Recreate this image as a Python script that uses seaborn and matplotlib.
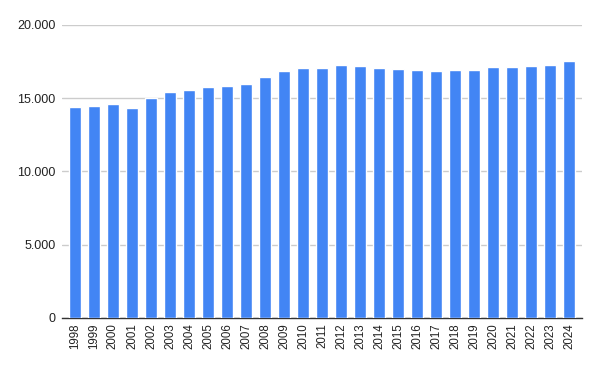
import matplotlib
matplotlib.use("Agg")
import matplotlib.pyplot as plt
import matplotlib.ticker as mticker
import seaborn as sns
import pandas as pd

years = [str(y) for y in range(1998, 2025)]
values = [14400, 14470, 14610, 14340, 15020, 15430, 15570, 15750, 15840, 15980,
          16450, 16860, 17050, 17050, 17270, 17200, 17070, 17000, 16930, 16860,
          16930, 16930, 17130, 17130, 17200, 17270, 17540]
yticks = [0, 5000, 10000, 15000, 20000]

df = pd.DataFrame({"year": years, "value": values})

sns.set_theme(style="white")
plt.rcParams['font.family'] = ['Liberation Sans', 'DejaVu Sans']

fig = plt.figure(figsize=(6, 3.71), dpi=100)
ax = fig.add_axes([62/600, 1 - 318/371, 520/600, 293/371])

sns.barplot(data=df, x="year", y="value", color="#4285F4", saturation=1,
            width=0.63, ax=ax, zorder=3)

ax.set_ylim(0, 20000)
ax.set_xlim(-0.68, len(years) - 1 + 0.68)
ax.set_yticks(yticks)
ax.yaxis.set_major_formatter(mticker.FuncFormatter(lambda v, p: f"{int(v):,}".replace(",", ".")))
ax.grid(axis="y", color="#cccccc", linewidth=1, zorder=0)
ax.set_axisbelow(True)
for s in ["top", "right", "left"]:
    ax.spines[s].set_visible(False)
ax.spines["bottom"].set_color("#333333")
ax.spines["bottom"].set_linewidth(1)
ax.set_xlabel("")
ax.set_ylabel("")
ax.tick_params(axis="x", rotation=90, labelsize=8.3, colors="#222222", length=0, pad=4)
ax.tick_params(axis="y", labelsize=9, colors="#222222", length=0, pad=4.5)

fig.savefig("out.png", dpi=100)
